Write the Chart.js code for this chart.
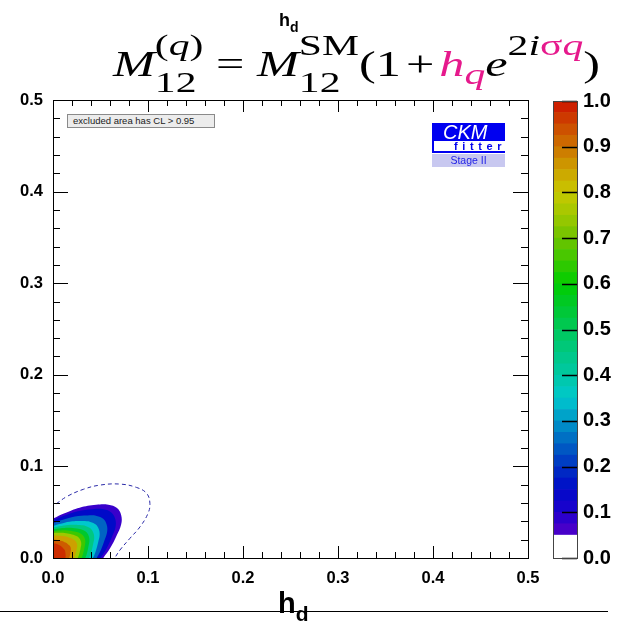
<!DOCTYPE html>
<html>
<head>
<meta charset="utf-8">
<script src="https://cdn.jsdelivr.net/npm/chart.js@4.4.0/dist/chart.umd.min.js"></script>
<style>
  body { margin: 0; background: #fff; }
  #wrap { position: relative; width: 630px; height: 621px; overflow: hidden; font-family: 'Liberation Sans', Arial, sans-serif; }
  #plot { position: absolute; left: 0; top: 0; }
  #cbar { position: absolute; left: 545px; top: 80px; }
  .t { position: absolute; white-space: nowrap; }
  #topTitle { left: 279px; top: 11px; font-size: 18px; line-height: 18px; font-weight: bold; }
  #topTitle .d { font-size: 14px; position: relative; top: 6px; }
  #xTitle { left: 278px; top: 589px; font-size: 29px; line-height: 29px; font-weight: bold; }
  #xTitle .d { font-size: 21px; position: relative; top: 8px; }
  #baseLine { position: absolute; left: 0; top: 611px; width: 608px; height: 1px; background: #000; }
  #formula { left: 113px; top: 10px; font-family: 'Liberation Serif', serif; font-size: 35px; line-height: 35px; transform-origin: 0 0; }
  #formula .scr { display: inline-block; position: relative; top: 16px; font-size: 29px; line-height: 37px; }
  #formula .scr span.l { display: block; }
  #formula .sp { position: relative; top: -21px; font-size: 29px; }
  #formula .sb { position: relative; top: 8px; font-size: 29px; }
  #formula .mg { color: #e6198c; }
  #formula .op { margin: 0 0.25em; }
  #formula .op2 { margin: 0 0.1em; }
  #excl { left: 67px; top: 114px; width: 141px; height: 12px; padding-left: 5px; background: #ececec; border: 1px solid #8a8a8a; font-size: 9.5px; line-height: 12px; color: #222; }
  #ckm { left: 432px; top: 123px; width: 73px; height: 18px; box-sizing: border-box; padding-left: 11px; background: #0000f0; color: #fff; font-style: italic; font-size: 20px; line-height: 18px; }
  #fitter { left: 432px; top: 141px; width: 73px; height: 12px; box-sizing: border-box; padding-left: 20px; border-left: 2px solid #0000f0; border-bottom: 2px solid #0000f0; color: #0000f0; font-weight: bold; font-size: 11px; line-height: 10px; letter-spacing: 4.6px; }
  #stage { left: 432px; top: 154px; width: 73px; height: 13px; background: #c8c8f0; color: #1e1ee6; font-size: 10.5px; line-height: 13px; text-align: center; }
</style>
</head>
<body>
<div id="wrap">
  <canvas id="plot" width="630" height="621"></canvas>
  <canvas id="cbar" width="85" height="500"></canvas>
  <div class="t" id="topTitle">h<span class="d">d</span></div>
  <div class="t" id="formula"><i>M</i><span id="bl" style="display:inline-block;width:0;height:0"></span><span class="scr"><span class="l">(<i>q</i>)</span><span class="l">12</span></span><span class="op">=</span><i>M</i><span class="scr"><span class="l">SM</span><span class="l">12</span></span>(1<span class="op2">+</span><i class="mg">h</i><span class="sb mg"><i>q</i></span><i>e</i><span class="sp">2<i>i</i><span class="mg">σ<i>q</i></span></span>)</div>
  <div class="t" id="excl">excluded area has CL &gt; 0.95</div>
  <div class="t" id="ckm">CKM</div>
  <div class="t" id="fitter">fitter</div>
  <div class="t" id="stage">Stage II</div>
  <div id="baseLine"></div>
  <div class="t" id="xTitle">h<span class="d">d</span></div>
</div>
<script>
// axes
const xMajor = [0.0, 0.1, 0.2, 0.3, 0.4, 0.5];
const xMinor = [0.02, 0.04, 0.06, 0.08, 0.12, 0.14, 0.16, 0.18, 0.22, 0.24, 0.26, 0.28, 0.32, 0.34, 0.36, 0.38, 0.42, 0.44, 0.46, 0.48];
const yMajor = [0.0, 0.1, 0.2, 0.3, 0.4, 0.5];
const yMinor = [0.02, 0.04, 0.06, 0.08, 0.12, 0.14, 0.16, 0.18, 0.22, 0.24, 0.26, 0.28, 0.32, 0.34, 0.36, 0.38, 0.42, 0.44, 0.46, 0.48];
const cbTicks = [0.0, 0.1, 0.2, 0.3, 0.4, 0.5, 0.6, 0.7, 0.8, 0.9, 1.0];

// 1-CL levels of the filled contours and their radius (from the origin) along each ray, in degrees
const pLevels = [0.05, 0.1, 0.2, 0.3, 0.4, 0.5, 0.6, 0.7, 0.8, 0.9, 0.95];
const rayAngles = [100, 90, 76, 63, 52, 45, 39, 33, 27, 20, 10, 0, -10, 225];
const r005 = [0.040, 0.043, 0.0504, 0.0617, 0.0738, 0.0824, 0.0867, 0.0856, 0.0805, 0.0712, 0.061, 0.053, 0.049, 0.02];
const r010 = [0.038, 0.041, 0.0475, 0.0573, 0.0676, 0.0752, 0.079, 0.0781, 0.0738, 0.0657, 0.057, 0.050, 0.046, 0.02];
const r020 = [0.035, 0.038, 0.0431, 0.0509, 0.059, 0.065, 0.068, 0.0673, 0.064, 0.0579, 0.0513, 0.046, 0.042, 0.02];
const r030 = [0.032, 0.035, 0.0389, 0.0449, 0.0511, 0.0557, 0.058, 0.0575, 0.0551, 0.0506, 0.0458, 0.042, 0.038, 0.02];
const r040 = [0.030, 0.033, 0.0361, 0.0407, 0.0456, 0.0492, 0.051, 0.0506, 0.0487, 0.045, 0.0411, 0.038, 0.035, 0.02];
const r050 = [0.028, 0.031, 0.0334, 0.037, 0.0408, 0.0436, 0.045, 0.0447, 0.043, 0.0399, 0.0366, 0.034, 0.031, 0.02];
const r060 = [0.026, 0.029, 0.0309, 0.0337, 0.0367, 0.0389, 0.040, 0.0397, 0.0382, 0.0354, 0.0324, 0.030, 0.027, 0.02];
const r070 = [0.024, 0.027, 0.0284, 0.0304, 0.0326, 0.0342, 0.035, 0.0347, 0.0334, 0.0309, 0.0282, 0.026, 0.023, 0.02];
const r080 = [0.021, 0.024, 0.025, 0.0266, 0.0282, 0.0294, 0.030, 0.0298, 0.0286, 0.0263, 0.0239, 0.022, 0.019, 0.02];
const r090 = [0.018, 0.020, 0.0203, 0.0209, 0.0214, 0.0218, 0.022, 0.0219, 0.0211, 0.0197, 0.0182, 0.017, 0.015, 0.02];
const r095 = [0.014, 0.016, 0.0158, 0.0156, 0.0153, 0.0151, 0.015, 0.015, 0.0145, 0.014, 0.0135, 0.013, 0.011, 0.02];
const contourRadii = [r005, r010, r020, r030, r040, r050, r060, r070, r080, r090, r095];

// dashed 95% CL contour
const dashX = [-0.01, 0.0, 0.0144, 0.032, 0.0495, 0.0705, 0.088, 0.0986, 0.102, 0.100, 0.0916, 0.081, 0.0705, 0.065, 0.060];
const dashY = [0.053, 0.057, 0.067, 0.075, 0.0796, 0.0807, 0.077, 0.0705, 0.0596, 0.0487, 0.034, 0.0215, 0.0087, 0.0, -0.008];

// palette of the colour scale
const cStops = [0.05, 0.10, 0.15, 0.20, 0.25, 0.30, 0.35, 0.40, 0.45, 0.50, 0.55, 0.60, 0.65, 0.70, 0.75, 0.80, 0.85, 0.90, 0.95, 1.00];
const cRGB = [[85,0,200],[30,0,205],[0,10,200],[0,50,195],[0,100,195],[0,150,200],[0,200,205],[0,200,165],[0,200,130],[0,200,90],[0,200,45],[0,205,0],[60,200,0],[110,195,0],[160,200,0],[200,200,0],[205,160,0],[205,115,0],[205,70,0],[205,20,0]];

function paletteAt(v) {
  let k = 0;
  while (k < cStops.length - 2 && v > cStops[k + 1]) k++;
  const t = Math.min(1, Math.max(0, (v - cStops[k]) / (cStops[k + 1] - cStops[k])));
  const c = cRGB[k].map((c0, j) => Math.round(c0 + t * (cRGB[k + 1][j] - c0)));
  return 'rgb(' + c.join(',') + ')';
}

const isMajor = (list, v) => list.some(m => Math.abs(m - v) < 1e-6);
const font = { family: 'Liberation Sans', weight: 'bold', size: 16.5 };

function polar(r) {
  return rayAngles.map((a, k) => ({
    x: r[k] * Math.cos(a * Math.PI / 180),
    y: r[k] * Math.sin(a * Math.PI / 180)
  }));
}

const datasets = contourRadii.map((r, i) => {
  const next = i + 1 < pLevels.length ? pLevels[i + 1] : 1.0;
  return {
    data: polar(r),
    showLine: true,
    fill: 'shape',
    backgroundColor: paletteAt((pLevels[i] + next) / 2),
    borderColor: 'rgba(0,0,0,0)',
    borderWidth: 0,
    pointRadius: 0,
    tension: 0.4,
    order: 100 - i
  };
});
datasets.push({
  data: dashX.map((x, k) => ({ x: x, y: dashY[k] })),
  showLine: true,
  fill: false,
  borderColor: '#2a2aa8',
  borderWidth: 1,
  borderDash: [4, 3],
  pointRadius: 0,
  tension: 0.4,
  order: 0
});

// inward ticks on all four sides, plus the frame
const frameTicks = {
  id: 'frameTicks',
  afterDatasetsDraw(chart) {
    const { ctx, chartArea: a, scales: { x, y } } = chart;
    ctx.save();
    ctx.strokeStyle = '#000';
    ctx.lineWidth = 1;
    ctx.beginPath();
    x.ticks.forEach(t => {
      const px = Math.round(x.getPixelForValue(t.value)) + 0.5;
      const len = isMajor(xMajor, t.value) ? 12 : 6;
      ctx.moveTo(px, a.bottom); ctx.lineTo(px, a.bottom - len);
      ctx.moveTo(px, a.top); ctx.lineTo(px, a.top + len);
    });
    y.ticks.forEach(t => {
      const py = Math.round(y.getPixelForValue(t.value)) + 0.5;
      const len = isMajor(yMajor, t.value) ? 15 : 7;
      ctx.moveTo(a.left, py); ctx.lineTo(a.left + len, py);
      ctx.moveTo(a.right, py); ctx.lineTo(a.right - len, py);
    });
    ctx.stroke();
    ctx.strokeRect(Math.round(a.left) + 0.5, Math.round(a.top) + 0.5, Math.round(a.right - a.left), Math.round(a.bottom - a.top));
    ctx.restore();
  }
};

new Chart(document.getElementById('plot'), {
  type: 'scatter',
  data: { datasets: datasets },
  options: {
    responsive: false,
    animation: false,
    layout: { padding: { left: 8, right: 102, top: 100, bottom: 23 } },
    elements: { line: { capBezierPoints: false } },
    plugins: { legend: { display: false }, tooltip: { enabled: false } },
    scales: {
      x: {
        type: 'linear', min: 0, max: 0.5,
        afterBuildTicks: s => { s.ticks = xMajor.concat(xMinor).sort((a, b) => a - b).map(v => ({ value: v })); },
        afterFit: s => { s.height = 40; },
        grid: { display: false, drawTicks: false },
        border: { display: false },
        ticks: { autoSkip: false, maxRotation: 0, padding: 11, color: '#000', font: font,
          callback: v => isMajor(xMajor, v) ? v.toFixed(1) : '' }
      },
      y: {
        type: 'linear', min: 0, max: 0.5,
        afterBuildTicks: s => { s.ticks = yMajor.concat(yMinor).sort((a, b) => a - b).map(v => ({ value: v })); },
        afterFit: s => { s.width = 45; },
        grid: { display: false, drawTicks: false },
        border: { display: false },
        ticks: { autoSkip: false, padding: 10, color: '#000', font: font,
          callback: v => isMajor(yMajor, v) ? v.toFixed(1) : '' }
      }
    }
  },
  plugins: [frameTicks]
});

// colour scale
const cbDatasets = [{ data: [0.05], backgroundColor: '#fff' }];
for (let lo = 0.05; lo < 0.999; lo += 0.025) {
  cbDatasets.push({ data: [0.025], backgroundColor: paletteAt(lo + 0.0125) });
}

const cbFrame = {
  id: 'cbFrame',
  afterDatasetsDraw(chart) {
    const { ctx, chartArea: a, scales: { y } } = chart;
    ctx.save();
    ctx.strokeStyle = '#000';
    ctx.lineWidth = 1.3;
    ctx.beginPath();
    cbTicks.forEach(v => {
      const py = Math.round(y.getPixelForValue(v)) + 0.5;
      ctx.moveTo(a.right, py); ctx.lineTo(a.right - 15, py);
    });
    ctx.stroke();
    ctx.lineWidth = 1;
    ctx.strokeStyle = '#444';
    ctx.strokeRect(Math.round(a.left) + 0.5, Math.round(a.top) + 0.5, Math.round(a.right - a.left), Math.round(a.bottom - a.top));
    ctx.restore();
  }
};

new Chart(document.getElementById('cbar'), {
  type: 'bar',
  data: { labels: [''], datasets: cbDatasets },
  options: {
    responsive: false,
    animation: false,
    layout: { padding: { left: 8, right: 0, top: 21, bottom: 22 } },
    datasets: { bar: { barPercentage: 1, categoryPercentage: 1, borderWidth: 0 } },
    plugins: { legend: { display: false }, tooltip: { enabled: false } },
    scales: {
      x: { display: false, stacked: true },
      y: {
        stacked: true, position: 'right', min: 0, max: 1,
        afterBuildTicks: s => { s.ticks = cbTicks.map(v => ({ value: v })); },
        afterFit: s => { s.width = 53; },
        grid: { display: false, drawTicks: false },
        border: { display: false },
        ticks: { autoSkip: false, padding: 6, color: '#000',
          font: { family: 'Liberation Sans', weight: 'bold', size: 20 },
          callback: v => v.toFixed(1) }
      }
    }
  },
  plugins: [cbFrame]
});

// fit the formula to its place: baseline at y=76, spanning x 113..600
const formula = document.getElementById('formula');
const w = formula.getBoundingClientRect().width;
const base = document.getElementById('bl').getBoundingClientRect().top;
formula.style.top = (10 + 76 - base) + 'px';
formula.style.transform = 'scaleX(' + (487 / w) + ')';
</script>
</body>
</html>
